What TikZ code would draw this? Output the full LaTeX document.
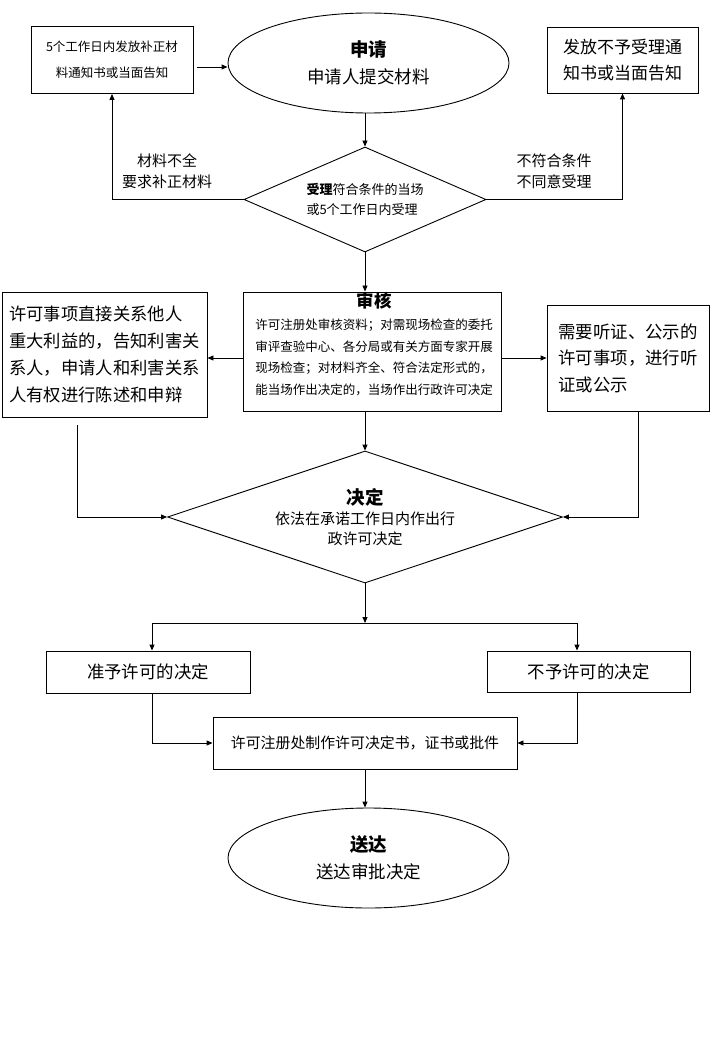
\documentclass[tikz,border=0pt]{standalone}
\usepackage{fontspec}
\setmainfont{Noto Sans CJK SC}
\usetikzlibrary{shapes.geometric,arrows.meta,calc}
\newcommand{\setfs}[2]{\fontsize{#1}{#2}\selectfont}
\tikzset{every picture/.style={line width=0.9pt}}
\tikzset{
  rbox/.style={draw, rectangle, inner sep=0pt, align=center},
  oval/.style={draw, ellipse, inner sep=0pt, align=center},
  rhomb/.style={draw, diamond, inner sep=0pt, align=center},
  arr/.style={-{Triangle[length=6pt,width=5pt]}},
}

\begin{document}
\begin{tikzpicture}[x=1pt,y=1pt,yscale=-1,xscale=1]
\useasboundingbox (0,0) rectangle (714,1048);

%Shape: Rectangle
\node [rbox, minimum width=162pt, minimum height=67pt, font=\setfs{12.5}{26}] (resupply) at (112,60) {5个工作日内发放补正材\\料通知书或当面告知};
%Shape: Ellipse
\node [oval, minimum width=281pt, minimum height=100pt, font=\setfs{17.5}{27}] (apply) at (368.5,63) {{\setfs{18.5}{27}\bfseries 申请}\\申请人提交材料};
%Shape: Rectangle
\node [rbox, minimum width=151pt, minimum height=66pt, font=\setfs{17}{26}] (reject) at (622.5,60) {发放不予受理通\\知书或当面告知};
%Shape: Diamond
\node [rhomb, minimum width=242pt, minimum height=105pt, aspect=2.3, align=left, font=\setfs{13}{20}] (accept) at (365,199.5) {{\bfseries 受理}符合条件的当场\\或5个工作日内受理};

% Text Node
\node [align=center, font=\setfs{15}{21}] (lackmat) at (167,171) {材料不全\\要求补正材料};
% Text Node
\node [align=center, font=\setfs{15}{21}] (nomatch) at (554,171) {不符合条件\\不同意受理};

%Shape: Rectangle
\node [rbox, minimum width=258pt, minimum height=119pt] (review) at (372,351.5) {};
% Text Node
\node [align=center, anchor=north, inner sep=0pt, font=\setfs{12.5}{21.7}] (reviewtext) at (374,292) {{\setfs{17.5}{21}\bfseries 审核}\\许可注册处审核资料；对需现场检查的委托\\审评查验中心、各分局或有关方面专家开展\\现场检查；对材料齐全、符合法定形式的，\\能当场作出决定的，当场作出行政许可决定};
%Shape: Rectangle
\node [rbox, minimum width=205pt, minimum height=125pt, align=left, font=\setfs{17.3}{26.7}] (inform) at (104.5,354.5) {许可事项直接关系他人\\重大利益的，告知利害关\\系人，申请人和利害关系\\人有权进行陈述和申辩};
%Shape: Rectangle
\node [rbox, minimum width=162pt, minimum height=106pt, align=left, font=\setfs{17.4}{26.5}] (hearing) at (628,358) {需要听证、公示的\\许可事项，进行听\\证或公示};

%Shape: Diamond
\node [rhomb, minimum width=395pt, minimum height=132pt, aspect=3, font=\setfs{15}{20}] (decide) at (365,517) {{\setfs{18.5}{22}\bfseries 决定}\\依法在承诺工作日内作出行\\政许可决定};

%Shape: Rectangle
\node [rbox, minimum width=204pt, minimum height=42pt, font=\setfs{17.4}{20}] (grant) at (148,672) {准予许可的决定};
%Shape: Rectangle
\node [rbox, minimum width=203pt, minimum height=41pt, font=\setfs{17.4}{20}] (deny) at (588.5,671.5) {不予许可的决定};
%Shape: Rectangle
\node [rbox, minimum width=304pt, minimum height=52pt, font=\setfs{14.9}{20}] (make) at (365,743) {许可注册处制作许可决定书，证书或批件};
%Shape: Ellipse
\node [oval, minimum width=281pt, minimum height=100pt, font=\setfs{17.5}{27}] (deliver) at (368.5,858) {{\setfs{18.5}{27}\bfseries 送达}\\送达审批决定};

\coordinate (resupplyout) at (197,67);
\coordinate (informout) at (77,425);
\coordinate (hearingout) at (638,411);
\coordinate (split) at (365,623);

%Straight Lines
\draw [arr] (resupplyout) -- (resupplyout -| apply.west);
\draw [arr] (accept.north |- apply.south) -- (accept.north);
\draw [arr] (accept.west) -| (resupply.south);
\draw [arr] (accept.east) -| (reject.south);
\draw [arr] (accept.south) -- (accept.south |- review.north);
\draw [arr] (review.west |- hearing.west) -- (inform.east |- hearing.west);
\draw [arr] (review.east |- hearing.west) -- (hearing.west);
\draw [arr] (informout) |- (decide.west);
\draw [arr] (hearingout) |- (decide.east);
\draw [arr] (decide.north |- review.south) -- (decide.north);
\draw [arr] (decide.south) -- (split);
\draw [arr] (split) -| ($(grant.north)+(4,0)$);
\draw [arr] (split) -| ($(deny.north)+(-11.5,0)$);
\draw [arr] ($(grant.south)+(4,0)$) |- (make.west);
\draw [arr] ($(deny.south)+(-11.5,0)$) |- (make.east);
\draw [arr] (make.south) -- (make.south |- deliver.north);

\end{tikzpicture}
\end{document}
